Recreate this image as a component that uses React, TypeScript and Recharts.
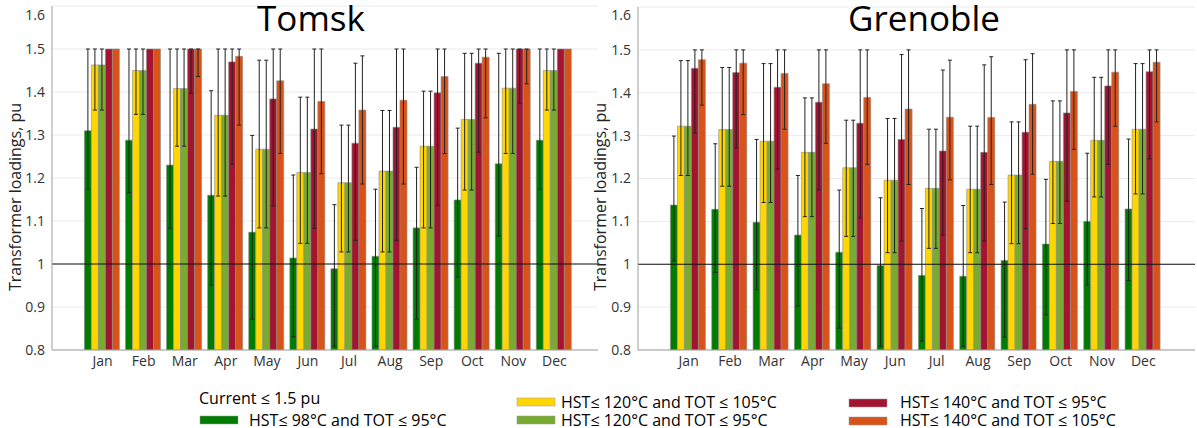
import React from 'react';
import { BarChart, Bar, XAxis, YAxis, CartesianGrid, ErrorBar, ReferenceLine } from 'recharts';

const months = ['Jan', 'Feb', 'Mar', 'Apr', 'May', 'Jun', 'Jul', 'Aug', 'Sep', 'Oct', 'Nov', 'Dec'];
const yTicks = [0.8, 0.9, 1, 1.1, 1.2, 1.3, 1.4, 1.5, 1.6];

// Tomsk: bar value, lower and upper ends of the error bar
const tomskGreen = [1.31, 1.288, 1.23, 1.16, 1.074, 1.014, 0.989, 1.018, 1.084, 1.149, 1.233, 1.288];
const tomskGreenLo = [1.174, 1.166, 1.083, 0.951, 0.872, 0.831, 0.809, 0.809, 0.872, 0.97, 1.065, 1.174];
const tomskGreenHi = [1.5, 1.5, 1.5, 1.403, 1.299, 1.207, 1.138, 1.174, 1.225, 1.316, 1.49, 1.5];
const tomskYellow = [1.463, 1.45, 1.408, 1.346, 1.267, 1.213, 1.189, 1.216, 1.274, 1.336, 1.409, 1.45];
const tomskYellowLo = [1.358, 1.348, 1.274, 1.158, 1.084, 1.048, 1.028, 1.028, 1.084, 1.172, 1.257, 1.358];
const tomskYellowHi = [1.5, 1.5, 1.5, 1.5, 1.474, 1.388, 1.323, 1.357, 1.402, 1.49, 1.5, 1.5];
const tomskLight = [1.463, 1.45, 1.408, 1.346, 1.267, 1.213, 1.189, 1.216, 1.274, 1.336, 1.409, 1.45];
const tomskLightLo = [1.358, 1.348, 1.274, 1.158, 1.084, 1.048, 1.028, 1.028, 1.084, 1.172, 1.257, 1.358];
const tomskLightHi = [1.5, 1.5, 1.5, 1.5, 1.474, 1.388, 1.323, 1.357, 1.402, 1.49, 1.5, 1.5];
const tomskRed = [1.5, 1.5, 1.5, 1.47, 1.384, 1.314, 1.281, 1.318, 1.398, 1.467, 1.5, 1.5];
const tomskRedLo = [null, null, 1.397, 1.232, 1.135, 1.083, 1.055, 1.055, 1.136, 1.26, 1.374, null];
const tomskRedHi = [null, null, 1.5, 1.5, 1.5, 1.5, 1.467, 1.5, 1.5, 1.5, 1.5, null];
const tomskOrange = [1.5, 1.5, 1.5, 1.483, 1.426, 1.378, 1.358, 1.381, 1.436, 1.481, 1.5, 1.5];
const tomskOrangeLo = [null, null, 1.436, 1.323, 1.257, 1.21, 1.186, 1.186, 1.257, 1.34, 1.419, null];
const tomskOrangeHi = [null, null, 1.5, 1.5, 1.5, 1.5, 1.484, 1.5, 1.5, 1.5, 1.5, null];

// Grenoble
const grenGreen = [1.138, 1.128, 1.098, 1.068, 1.028, 0.997, 0.974, 0.972, 1.009, 1.047, 1.1, 1.129];
const grenGreenLo = [1.008, 0.981, 0.941, 0.903, 0.851, 0.809, 0.821, 0.809, 0.83, 0.882, 0.952, 0.962];
const grenGreenHi = [1.299, 1.281, 1.291, 1.207, 1.173, 1.155, 1.13, 1.137, 1.145, 1.198, 1.259, 1.292];
const grenYellow = [1.322, 1.314, 1.287, 1.261, 1.225, 1.196, 1.177, 1.175, 1.208, 1.24, 1.289, 1.315];
const grenYellowLo = [1.207, 1.182, 1.144, 1.111, 1.065, 1.027, 1.037, 1.027, 1.048, 1.095, 1.157, 1.164];
const grenYellowHi = [1.475, 1.459, 1.468, 1.388, 1.336, 1.34, 1.315, 1.322, 1.332, 1.381, 1.436, 1.468];
const grenLight = [1.322, 1.314, 1.287, 1.261, 1.225, 1.196, 1.177, 1.175, 1.208, 1.24, 1.289, 1.315];
const grenLightLo = [1.207, 1.182, 1.144, 1.111, 1.065, 1.027, 1.037, 1.027, 1.048, 1.095, 1.157, 1.164];
const grenLightHi = [1.475, 1.459, 1.468, 1.388, 1.336, 1.34, 1.315, 1.322, 1.332, 1.381, 1.436, 1.468];
const grenRed = [1.457, 1.447, 1.413, 1.378, 1.329, 1.291, 1.264, 1.261, 1.308, 1.353, 1.416, 1.449];
const grenRedLo = [1.306, 1.271, 1.222, 1.173, 1.108, 1.054, 1.068, 1.054, 1.083, 1.147, 1.233, 1.246];
const grenRedHi = [1.5, 1.5, 1.5, 1.5, 1.5, 1.489, 1.453, 1.465, 1.477, 1.5, 1.5, 1.5];
const grenOrange = [1.477, 1.469, 1.445, 1.421, 1.389, 1.362, 1.343, 1.342, 1.373, 1.403, 1.448, 1.471];
const grenOrangeLo = [1.371, 1.349, 1.315, 1.282, 1.233, 1.186, 1.197, 1.186, 1.21, 1.268, 1.322, 1.332];
const grenOrangeHi = [1.5, 1.5, 1.5, 1.5, 1.5, 1.5, 1.476, 1.484, 1.491, 1.5, 1.5, 1.5];

const seriesNames = [
  'HST≤ 98°C and TOT ≤ 95°C',
  'HST≤ 120°C and TOT ≤ 105°C',
  'HST≤ 120°C and TOT ≤ 95°C',
  'HST≤ 140°C and TOT ≤ 95°C',
  'HST≤ 140°C and TOT ≤ 105°C',
];
const seriesColors = ['#007c00', '#ffd600', '#77ac30', '#a2142f', '#d95319'];

type Band = { v: number[]; lo: (number | null)[]; hi: (number | null)[] };

function buildRows(bands: Band[]) {
  return months.map((m, i) => {
    const row: Record<string, any> = { month: m };
    bands.forEach((b, k) => {
      const v = b.v[i];
      const lo = b.lo[i];
      const hi = b.hi[i];
      row['s' + k] = v;
      row['e' + k] = lo == null || hi == null ? null : [v - lo, hi - v];
    });
    return row;
  });
}

const tomskRows = buildRows([
  { v: tomskGreen, lo: tomskGreenLo, hi: tomskGreenHi },
  { v: tomskYellow, lo: tomskYellowLo, hi: tomskYellowHi },
  { v: tomskLight, lo: tomskLightLo, hi: tomskLightHi },
  { v: tomskRed, lo: tomskRedLo, hi: tomskRedHi },
  { v: tomskOrange, lo: tomskOrangeLo, hi: tomskOrangeHi },
]);

const grenRows = buildRows([
  { v: grenGreen, lo: grenGreenLo, hi: grenGreenHi },
  { v: grenYellow, lo: grenYellowLo, hi: grenYellowHi },
  { v: grenLight, lo: grenLightLo, hi: grenLightHi },
  { v: grenRed, lo: grenRedLo, hi: grenRedHi },
  { v: grenOrange, lo: grenOrangeLo, hi: grenOrangeHi },
]);

const font = '"Open Sans", sans-serif';

// top label sits a little lower so it is not clipped
const YTick = ({ x, y, payload }: any) => (
  <text
    x={x}
    y={y + (payload.value >= 1.6 ? 6 : 0)}
    dy='0.355em'
    textAnchor='end'
    fill='#333'
    fontSize={14}
    fontFamily={font}
  >
    {String(+Number(payload.value).toFixed(1))}
  </text>
);

type ChartProps = {
  rows: Record<string, any>[];
  left: number;
  width: number;
  axisWidth: number;
  top: number;
  padding: { left: number; right: number };
};

function CityChart({ rows, left, width, axisWidth, top, padding }: ChartProps) {
  return (
    <div style={{ position: 'absolute', left, top: 0 }}>
      <BarChart
        width={width}
        height={380}
        data={rows}
        margin={{ top, right: 2, left: 0, bottom: 0 }}
        barCategoryGap={2.4}
        barGap={0}
      >
        <CartesianGrid vertical={false} stroke='#ebebeb' />
        <XAxis
          dataKey='month'
          height={30}
          padding={padding}
          tickLine={false}
          tickSize={0}
          tickMargin={6}
          axisLine={{ stroke: '#a0a0a0' }}
          tick={{ fill: '#333', fontSize: 14, fontFamily: font }}
          interval={0}
        />
        <YAxis
          type='number'
          domain={[0.8, 1.6]}
          ticks={yTicks}
          allowDataOverflow
          width={axisWidth}
          tickLine={false}
          tickSize={0}
          tickMargin={7}
          axisLine={{ stroke: '#a0a0a0' }}
          tick={YTick}
        />
        {seriesColors.map((c, k) => (
          <Bar key={k} dataKey={'s' + k} fill={c} stroke='#8c8c8c' strokeWidth={0.6} isAnimationActive={false}>
            <ErrorBar dataKey={'e' + k} width={2} stroke='#222' strokeWidth={1} direction='y' />
          </Bar>
        ))}
        <ReferenceLine y={1} stroke='#111' strokeWidth={1} />
      </BarChart>
    </div>
  );
}

export default function App() {
  const swatch = (x: number, y: number, c: string) => (
    <rect x={x} y={y} width={38} height={8} fill={c} stroke='#999' strokeWidth={0.5} />
  );
  const legendText = { fontFamily: font, fontSize: 16, fill: '#000' };
  return (
    <div style={{ position: 'absolute', left: 0, top: 0, width: 1197, height: 428, background: '#fff', overflow: 'hidden' }}>
      <CityChart rows={tomskRows} left={0} width={600} axisWidth={52} top={6} padding={{ left: 30, right: 23 }} />
      <CityChart rows={grenRows} left={600} width={597} axisWidth={38} top={7} padding={{ left: 30, right: 31 }} />
      <svg width={1197} height={428} style={{ position: 'absolute', left: 0, top: 0, pointerEvents: 'none' }}>
        <text x={311} y={31} textAnchor='middle' style={{ fontFamily: font, fontSize: 35 }}>Tomsk</text>
        <text x={924} y={31} textAnchor='middle' style={{ fontFamily: font, fontSize: 35 }}>Grenoble</text>
        <text transform='translate(21,197) rotate(-90)' textAnchor='middle' style={{ fontFamily: font, fontSize: 16, fill: '#222' }}>
          Transformer loadings, pu
        </text>
        <text transform='translate(606,197) rotate(-90)' textAnchor='middle' style={{ fontFamily: font, fontSize: 16, fill: '#222' }}>
          Transformer loadings, pu
        </text>
        <text x={199} y={404} style={legendText}>Current ≤ 1.5 pu</text>
        {swatch(200, 416, seriesColors[0])}
        <text x={249} y={426} style={legendText}>{seriesNames[0]}</text>
        {swatch(517, 398, seriesColors[1])}
        <text x={561} y={408} style={legendText}>{seriesNames[1]}</text>
        {swatch(517, 416, seriesColors[2])}
        <text x={561} y={426} style={legendText}>{seriesNames[2]}</text>
        {swatch(849, 399, seriesColors[3])}
        <text x={900} y={408} style={legendText}>{seriesNames[3]}</text>
        {swatch(849, 417, seriesColors[4])}
        <text x={900} y={426} style={legendText}>{seriesNames[4]}</text>
      </svg>
    </div>
  );
}
